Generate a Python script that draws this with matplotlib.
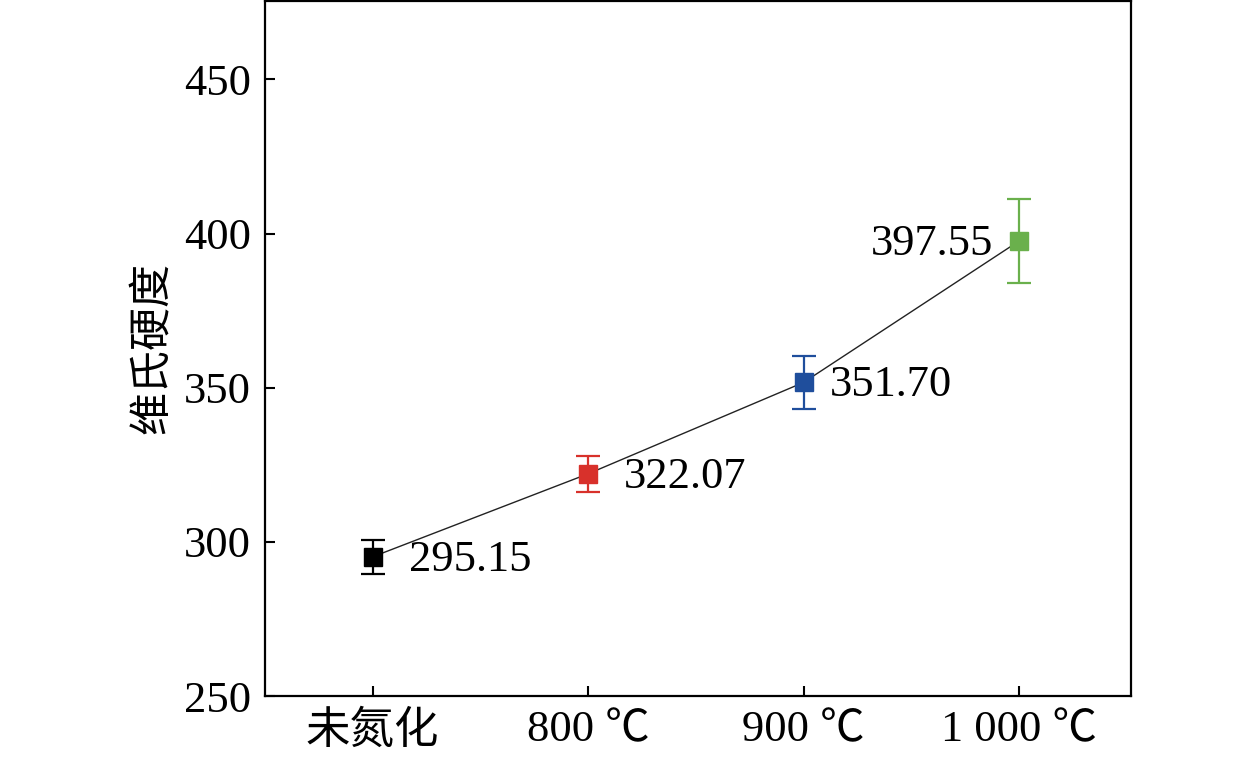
import matplotlib
matplotlib.use('Agg')
import matplotlib.pyplot as plt

plt.rcParams['font.family'] = ['Liberation Serif', 'Noto Sans CJK SC', 'DejaVu Sans']

categories = ['未氮化', '800 ℃', '900 ℃', '1 000 ℃']
hardness = [295.15, 322.07, 351.70, 397.55]
errors = [5.6, 5.8, 8.6, 13.75]
labels = ['295.15', '322.07', '351.70', '397.55']
colors = ['#000000', '#d8312b', '#1f4e9c', '#6ab04c']

fig = plt.figure(figsize=(12.59, 7.59), dpi=100)
ax = fig.add_axes([0.2105, 0.083, 0.6878, 0.916])

x = list(range(len(categories)))
ax.plot(x, hardness, color='#222222', lw=1.0, zorder=1)

for i in x:
    ax.errorbar(x[i], hardness[i], yerr=errors[i], fmt='s', color=colors[i],
                ms=13, capsize=8.5, elinewidth=1.6, capthick=1.6, zorder=3)

# label offsets in pixels (dx, dy, ha)
offs = [(36, -3, 'left'), (36, -3, 'left'), (26, -3, 'left'), (-26, -3, 'right')]
for i in x:
    dx, dy, ha = offs[i]
    ax.annotate(labels[i], (x[i], hardness[i]), xytext=(dx, dy),
                textcoords='offset pixels', ha=ha, va='center', fontsize=32)

ax.set_xlim(-0.5, 3.52)
ax.set_ylim(250, 475.5)
ax.set_yticks([250, 300, 350, 400, 450])
ax.set_xticks(x)
ax.set_xticklabels(categories)
ax.set_ylabel('维氏硬度', fontsize=31, labelpad=8)

ax.tick_params(direction='in', length=7, width=1.5, labelsize=32, pad=10)
for s in ax.spines.values():
    s.set_linewidth(1.6)

fig.savefig('out.png', dpi=100)
